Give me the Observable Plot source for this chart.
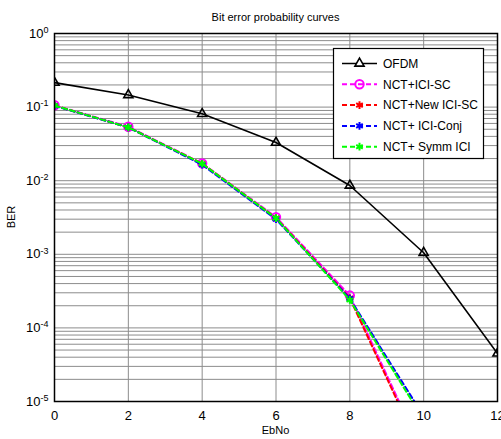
<!DOCTYPE html>
<html>
<head>
<meta charset="utf-8">
<script src="https://cdn.jsdelivr.net/npm/d3@7"></script>
<script src="https://cdn.jsdelivr.net/npm/@observablehq/plot@0.6"></script>
<style>
  html, body { margin: 0; padding: 0; background: #fff; }
  #chart { width: 501px; height: 439px; }
</style>
</head>
<body>
<div id="chart"></div>
<script>
// ---- data ----
const ebno = [0, 2, 4, 6, 8, 10, 12];
const ofdm        = [0.215, 0.146, 0.081, 0.033, 0.0086, 0.00105, 4.5e-5];
const nctIciSc    = [0.106, 0.054, 0.0172, 0.0032, 2.75e-4, 1.9e-6];
const nctNewIciSc = [0.105, 0.053, 0.0170, 0.0031, 2.55e-4, 1.7e-6];
const nctIciConj  = [0.104, 0.053, 0.0165, 0.0030, 2.5e-4, 6.3e-6];
const nctSymmIci  = [0.105, 0.053, 0.0170, 0.0031, 2.4e-4, 5.6e-6];

const seriesNames  = ["OFDM", "NCT+ICI-SC", "NCT+New ICI-SC", "NCT+ ICI-Conj", "NCT+ Symm ICI"];
const seriesValues = [ofdm, nctIciSc, nctNewIciSc, nctIciConj, nctSymmIci];
const seriesColors = ["#000000", "#ff00ff", "#ff0000", "#0000ff", "#00ff00"];
const seriesSymbols = ["triangle", "circle", "asterisk", "asterisk", "asterisk"];
const seriesDash = [null, "5,3", "5,3", "5,3", "5,3"];

const xTicks = [0, 2, 4, 6, 8, 10, 12];
const yTicks = [1, 1e-1, 1e-2, 1e-3, 1e-4, 1e-5];

const titleText = "Bit error probability curves";
const xLabel = "EbNo";
const yLabel = "BER";

// ---- build table ----
const rows = [];
seriesValues.forEach((vals, si) => {
  vals.forEach((v, i) => rows.push({series: seriesNames[si], si, x: ebno[i], y: v}));
});

// minor grid positions (1..9 x 10^k)
const minorY = [];
for (let k = -5; k < 0; k++) for (let m = 1; m <= 9; m++) minorY.push(m * Math.pow(10, k));
minorY.push(1);

const W = 501, H = 439;
const mL = 54, mR = 4, mT = 33, mB = 38;
const symR = [3.4, 4.2, 3.6, 3.6, 3.6];

const marks = [
  Plot.ruleY(minorY, {stroke: "#8c8c8c", strokeWidth: 1}),
  Plot.ruleX(xTicks, {stroke: "#8c8c8c", strokeWidth: 1}),
];
seriesNames.forEach((name, si) => {
  const d = rows.filter(r => r.si === si);
  marks.push(Plot.line(d, {x: "x", y: "y", stroke: seriesColors[si],
    strokeWidth: si === 0 ? 1.6 : 2, strokeDasharray: seriesDash[si], clip: true}));
  marks.push(Plot.dot(d, {x: "x", y: "y", stroke: seriesColors[si], fill: "none",
    symbol: seriesSymbols[si], r: symR[si], strokeWidth: si === 0 ? 1.6 : 2, clip: true}));
});
marks.push(Plot.frame({stroke: "#000", strokeWidth: 1.5}));
marks.push(Plot.axisX({ticks: xTicks, tickSize: 0, tickPadding: 9, fontSize: 13, label: null}));
marks.push(Plot.axisY({ticks: yTicks, tickSize: 0, tickPadding: 6, fontSize: 13, label: null,
  tickFormat: d => "10^" + Math.round(Math.log10(d))}));

const svg = Plot.plot({
  width: W, height: H,
  marginLeft: mL, marginRight: mR, marginTop: mT, marginBottom: mB,
  style: {fontFamily: "'Liberation Sans', Arial, sans-serif", background: "#fff", color: "#000"},
  x: {domain: [0, 12]},
  y: {type: "log", domain: [1e-5, 1]},
  marks
});

document.getElementById("chart").appendChild(svg);

const s = d3.select(svg);
// superscript exponents on y tick labels
s.selectAll('g[aria-label="y-axis tick label"] text').each(function() {
  const t = this.textContent;
  const e = t.split("^")[1];
  const el = d3.select(this);
  el.text("10");
  el.append("tspan").attr("dy", "-0.55em").attr("font-size", 9).text(e);
});

const font = "'Liberation Sans', Arial, sans-serif";
// title and axis labels
s.append("text").attr("x", (mL + W - mR) / 2).attr("y", 21)
  .attr("text-anchor", "middle").attr("font-family", font).attr("font-size", 11).text(titleText);
s.append("text").attr("x", (mL + W - mR) / 2).attr("y", 434)
  .attr("text-anchor", "middle").attr("font-family", font).attr("font-size", 11).text(xLabel);
s.append("text").attr("transform", `translate(15,${(mT + H - mB) / 2}) rotate(-90)`)
  .attr("text-anchor", "middle").attr("font-family", font).attr("font-size", 11).text(yLabel);

// legend
const lg = s.append("g");
lg.append("rect").attr("x", 333.5).attr("y", 48.5).attr("width", 150).attr("height", 110)
  .attr("fill", "#fff").attr("stroke", "#000").attr("stroke-width", 1.2);
const symMap = {triangle: d3.symbolTriangle, circle: d3.symbolCircle, asterisk: d3.symbolAsterisk};
seriesNames.forEach((name, i) => {
  const y = 63.5 + i * 20.8;
  lg.append("line").attr("x1", 342).attr("x2", 377).attr("y1", y).attr("y2", y)
    .attr("stroke", seriesColors[i]).attr("stroke-width", i === 0 ? 1.6 : 2)
    .attr("stroke-dasharray", seriesDash[i]);
  const r = symR[i];
  lg.append("path").attr("transform", `translate(359.5,${y})`)
    .attr("d", d3.symbol(symMap[seriesSymbols[i]], Math.PI * r * r)())
    .attr("fill", i === 0 ? "#fff" : "none").attr("stroke", seriesColors[i])
    .attr("stroke-width", i === 0 ? 1.6 : 2);
  lg.append("text").attr("x", 383).attr("y", y).attr("dy", "0.35em")
    .attr("text-anchor", "start")
    .attr("font-family", font).attr("font-size", 12).text(name);
});
</script>
</body>
</html>
